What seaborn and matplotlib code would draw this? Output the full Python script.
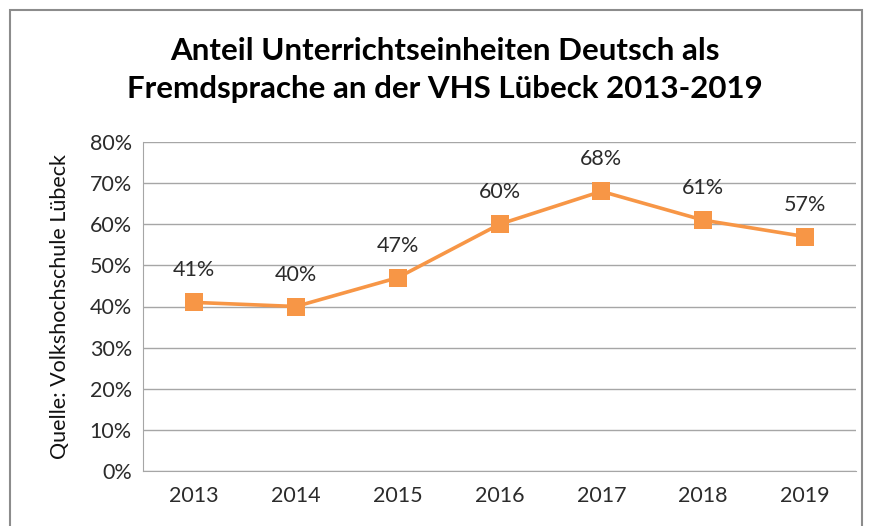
import pandas as pd
import matplotlib.pyplot as plt
import matplotlib.patches as patches
from matplotlib.ticker import PercentFormatter
import seaborn as sns

jahre = ['2013', '2014', '2015', '2016', '2017', '2018', '2019']
anteil = [41, 40, 47, 60, 68, 61, 57]

dados = pd.DataFrame({'Jahr': jahre, 'Anteil': anteil})

sns.set_style('white')
plt.rcParams['font.family'] = ['Lato', 'DejaVu Sans']

fig = plt.figure(figsize=(8.69, 5.26), dpi=100)
ax = fig.add_axes([143 / 869, 1 - 471 / 526, (856 - 143) / 869, (471 - 142) / 526])

# Rahmen um das Diagramm
fig.patches.append(patches.Rectangle((10 / 869, -0.1), (862 - 10) / 869, 1.1 - 10 / 526,
                                     transform=fig.transFigure, fill=False,
                                     edgecolor='#8c8c8c', linewidth=1.5))

orange = '#F79646'
sns.lineplot(data=dados, x='Jahr', y='Anteil', ax=ax, color=orange, linewidth=2.6,
             marker='s', markersize=13.5, markeredgewidth=0, sort=False)

for i, v in enumerate(anteil):
    ax.annotate(f'{v}%', (i, v), xytext=(0, 23), textcoords='offset points',
                ha='center', va='center', fontsize=15.5, color='#2b2b2b')

ax.set_xlim(-0.5, len(jahre) - 0.5)
ax.set_ylim(0, 80)
ax.set_yticks(range(0, 81, 10))
ax.yaxis.set_major_formatter(PercentFormatter(decimals=0))
ax.grid(axis='y', color='#a6a6a6', linewidth=1)
ax.set_axisbelow(True)
for s in ['top', 'right']:
    ax.spines[s].set_visible(False)
ax.spines['left'].set_color('#a6a6a6')
ax.spines['bottom'].set_color('#a6a6a6')
ax.tick_params(axis='both', length=0, labelsize=15.5, labelcolor='#2b2b2b')
ax.tick_params(axis='x', pad=11)
ax.tick_params(axis='y', pad=8)
ax.set_xlabel('')
ax.set_ylabel('Quelle: Volkshochschule Lübeck', fontsize=15.5, color='#111111', labelpad=14)

fig.text(0.512, 1 - 70 / 526, 'Anteil Unterrichtseinheiten Deutsch als\nFremdsprache an der VHS Lübeck 2013-2019',
         ha='center', va='center', fontsize=22.5, fontweight='bold', linespacing=1.45, color='#000000')

fig.savefig('out.png', dpi=100)
